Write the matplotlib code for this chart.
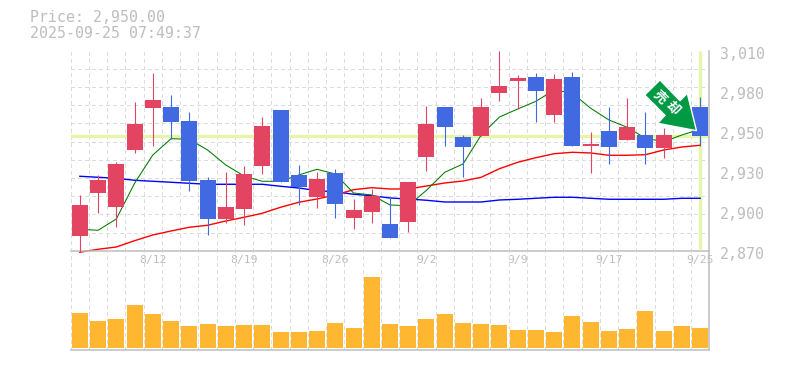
import numpy as np
import matplotlib
matplotlib.use("Agg")
import matplotlib.pyplot as plt
from matplotlib.patches import Polygon
from matplotlib.transforms import Affine2D, ScaledTranslation

plt.rcParams['font.family'] = ['Noto Sans CJK JP', 'DejaVu Sans']

dates = ["8/12", "8/19", "8/26", "9/2", "9/9", "9/17", "9/25"]
date_idx = [4, 9, 14, 19, 24, 29, 34]
open_ = [2880.3, 2910.4, 2900.6, 2940.5, 2969.9, 2970.6, 2960.8, 2919.5, 2892.2, 2899.2, 2929.3, 2968.5,
         2923.0, 2907.6, 2924.4, 2892.9, 2897.1, 2888.7, 2890.1, 2935.6, 2970.6, 2949.6, 2950.3, 2980.4,
         2988.8, 2991.6, 2965.0, 2991.6, 2943.3, 2953.8, 2947.5, 2951.0, 2941.9, 2959.2, 2970.6]
close = [2902.0, 2919.5, 2930.7, 2958.7, 2975.5, 2960.1, 2918.8, 2892.2, 2900.6, 2923.7, 2957.3, 2918.1,
         2914.6, 2920.2, 2902.7, 2898.5, 2908.3, 2878.9, 2918.1, 2958.7, 2956.6, 2942.6, 2970.6, 2985.3,
         2990.9, 2981.8, 2990.2, 2943.3, 2944.7, 2942.6, 2956.6, 2941.9, 2951.0, 2970.8, 2950.0]
high = [2909.0, 2923.0, 2932.1, 2974.1, 2994.4, 2979.0, 2967.1, 2921.6, 2925.1, 2929.3, 2963.6, 2968.5,
        2930.0, 2925.1, 2927.2, 2906.2, 2913.2, 2908.3, 2918.1, 2971.3, 2970.6, 2951.0, 2976.9, 3009.8,
        2993.0, 2994.4, 2993.7, 2995.1, 2953.1, 2970.6, 2976.9, 2967.1, 2955.9, 2974.3, 2977.6]
low = [2869.3, 2896.4, 2886.6, 2938.4, 2943.3, 2948.2, 2911.8, 2881.0, 2889.4, 2888.0, 2923.7, 2918.1,
       2902.0, 2899.9, 2892.9, 2885.2, 2889.4, 2878.9, 2883.1, 2925.8, 2943.3, 2921.6, 2950.3, 2974.8,
       2969.2, 2960.1, 2960.1, 2943.3, 2924.4, 2930.7, 2947.5, 2930.7, 2934.9, 2957.3, 2943.3]
ma_short = [2885, 2884.3, 2892.2, 2917.2, 2937, 2948.4, 2948, 2940.5, 2930, 2922.3, 2918.6, 2918.6,
            2923, 2927, 2923.7, 2910.4, 2909, 2902, 2901.5, 2912.3, 2924.9, 2930.7, 2951, 2963.6,
            2969.2, 2974.6, 2982.5, 2980.2, 2969.7, 2961.5, 2956.4, 2948.7, 2946.3, 2951, 2955]
ma_mid = [2868.9, 2871, 2872.6, 2877, 2881, 2883.8, 2886.4, 2887.8, 2890.8, 2893.4, 2896.2, 2900.4,
          2903.9, 2906.2, 2909, 2912.7, 2914.1, 2913.2, 2913.2, 2915.3, 2917.4, 2918.8, 2921.4, 2927.4,
          2931.9, 2935.1, 2937.9, 2938.9, 2938.4, 2936.8, 2936.8, 2937.2, 2940.5, 2942.6, 2943.8]
ma_long = [2922.1, 2921.4, 2920.7, 2919.3, 2918.6, 2917.9, 2917.2, 2916.5, 2916.5, 2916.5, 2916.5, 2915.1,
           2913.9, 2912, 2911.3, 2909.5, 2908.5, 2906.9, 2906.2, 2905.3, 2904.1, 2904.1, 2904.1, 2905.5,
           2906, 2906.7, 2907.4, 2907.4, 2906.7, 2906, 2906, 2906, 2906, 2906.7, 2906.7]
volume = [3500, 2700, 2900, 4300, 3400, 2700, 2200, 2400, 2200, 2300, 2300, 1600, 1600, 1700, 2500, 2000, 7100, 2400,
          2200, 2900, 3400, 2500, 2400, 2300, 1800, 1800, 1600, 3200, 2600, 1700, 1900, 3700, 1700, 2200, 2000]
price_ticks = [3010, 2982, 2954, 2926, 2898, 2870]
price_labels = ["3,010", "2,980", "2,950", "2,930", "2,900", "2,870"]
current_price = 2950

W, H = 785, 370
L, R, T, M, B = 70.7, 709.3, 50.7, 250.7, 350.0
GRAY = "#bdbdbd"
GRID = "#dcdcdc"
UP = "#e24461"
DOWN = "#4169e1"
MONO = "DejaVu Sans Mono"

fig = plt.figure(figsize=(W / 100, H / 100), dpi=100, facecolor="white")
ax = fig.add_axes([L / W, 1 - M / H, (R - L) / W, (M - T) / H])
av = fig.add_axes([L / W, 1 - B / H, (R - L) / W, (B - M) / H])
av.patch.set_alpha(0)
n = len(close)
x = np.arange(n)
grid_kw = dict(color=GRID, ls=(0, (3, 3)), lw=0.72, antialiased=False)

for a in (ax, av):
    a.set_xlim(-0.5, n - 0.5)
    a.set_xticks(np.arange(n + 1) - 0.5, minor=True)
    a.grid(True, which="minor", axis="x", **grid_kw)
    a.set_axisbelow(True)
    a.tick_params(which="both", length=0)
    for s in a.spines.values():
        s.set_visible(False)
    for side in ("right", "bottom"):
        a.spines[side].set_visible(True)
        a.spines[side].set_color(GRAY)
        a.spines[side].set_linewidth(1.1)

# price panel
ax.set_ylim(min(price_ticks), max(price_ticks))
ax.set_yticks(np.linspace(min(price_ticks), max(price_ticks), 12), minor=True)
ax.grid(True, which="minor", axis="y", **grid_kw)
ax.axhline(current_price, color="#e6f6a8", lw=2.4, zorder=1.5)
ax.plot([n - 1, n - 1], [2871.5, 3010], color="#e6f6a8", lw=2.4, zorder=1.5, solid_capstyle="butt")

ax.plot(x, ma_long, color="#0000ff", lw=1.0, zorder=2, clip_on=False)
ax.plot(x, ma_mid, color="#ff0000", lw=1.0, zorder=2, clip_on=False)
ax.plot(x, ma_short, color="#007a00", lw=0.75, zorder=2, clip_on=False)

colors = [UP if c >= o else DOWN for o, c in zip(open_, close)]
wicks = ax.vlines(x, low, high, colors=colors, lw=0.8, zorder=3, clip_on=False)
wicks.set_snap(True)
ax.bar(x, np.abs(np.array(close) - np.array(open_)), bottom=np.minimum(open_, close),
       width=0.877, color=colors, linewidth=0, zorder=4)

ax.yaxis.tick_right()
ax.set_yticks(price_ticks)
ax.set_yticklabels(price_labels, family=MONO, fontsize=10.7, color=GRAY)
ax.tick_params(axis="y", which="major", pad=7.5)
off = ScaledTranslation(0, -1.8 / 72, fig.dpi_scale_trans)
for lab in ax.get_yticklabels():
    lab.set_transform(lab.get_transform() + off)
ax.set_xticks(date_idx)
ax.set_xticklabels(dates, family=MONO, fontsize=8.2, color=GRAY)
ax.tick_params(axis="x", which="major", pad=3)

# volume panel
av.set_ylim(-200, 9730)
av.bar(x, volume, width=0.877, color="#ffb732", linewidth=0, zorder=3)
av.set_yticks([])
av.set_xticks([])

# header
fig.text(30 / W, 1 - 18 / H, "Price: 2,950.00", family=MONO, fontsize=10.7, color=GRAY, va="center")
fig.text(30 / W, 1 - 33 / H, "2025-09-25 07:49:37", family=MONO, fontsize=10.7, color=GRAY, va="center")

# arrow badge (pixel coordinates of the image)
pix = Affine2D().scale(1 / W, -1 / H).translate(0, 1) + fig.transFigure
arrow = [(660, 80), (680, 100.7), (687.3, 93.3), (696.5, 130.7), (657.7, 123.3), (665, 115.3), (644.7, 95)]
fig.add_artist(Polygon(arrow, closed=True, transform=pix, facecolor="#009944", edgecolor="white", lw=1.0, zorder=10))
for ch, px, py in (("売", 660, 96.7), ("却", 672.7, 108.3)):
    fig.text(px / W, 1 - py / H, ch, color="white", fontsize=9.5, fontweight="bold", rotation=-45,
             rotation_mode="anchor", ha="center", va="center", zorder=11)

fig.savefig("out.png", dpi=100, facecolor="white")
